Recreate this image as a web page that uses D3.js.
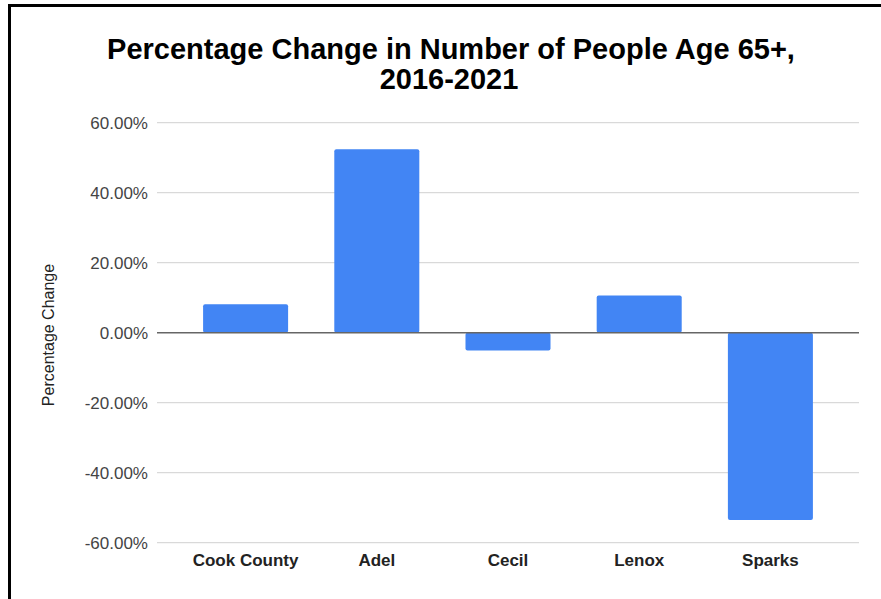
<!DOCTYPE html>
<html>
<head>
<meta charset="utf-8">
<script src="https://cdn.jsdelivr.net/npm/d3@7"></script>
<style>
  body { margin: 0; background: #fff; }
  text { font-family: Arial, "Liberation Sans", sans-serif; }
</style>
</head>
<body>
<svg id="mainsvg" width="881" height="599"></svg>
<script>
const places = ['Cook County', 'Adel', 'Cecil', 'Lenox', 'Sparks'];
const pctChange = [8.1, 52.4, -5.1, 10.6, -53.5];
const yTicks = [-60, -40, -20, 0, 20, 40, 60];

const svg = d3.select('#mainsvg');
const plot = {left: 157, right: 859, top: 122.7, bottom: 542.7};

// frame
svg.append('rect')
  .attr('x', 9.5).attr('y', 5.5)
  .attr('width', 1000).attr('height', 1000)
  .attr('fill', 'none').attr('stroke', '#000').attr('stroke-width', 3);

const xScale = d3.scaleBand()
  .domain(places)
  .range([180, 836])
  .paddingInner(0.352)
  .paddingOuter(0.176);

const yScale = d3.scaleLinear()
  .domain([-60, 60])
  .range([plot.bottom, plot.top]);

// gridlines
svg.append('g')
  .selectAll('line')
  .data(yTicks.filter(d => d !== 0))
  .join('line')
  .attr('x1', plot.left).attr('x2', plot.right)
  .attr('y1', d => yScale(d)).attr('y2', d => yScale(d))
  .attr('stroke', '#d9d9d9').attr('stroke-width', 1.2);

// y axis labels (plain hyphen for negatives)
const yAxis = svg.append('g')
  .attr('transform', `translate(${plot.left}, 0)`)
  .call(d3.axisLeft(yScale).tickValues(yTicks).tickSize(0).tickPadding(9)
    .tickFormat(d => d.toFixed(2) + '%'));
yAxis.select('.domain').remove();
yAxis.selectAll('text')
  .style('font-size', '17px')
  .style('font-family', 'Arial, "Liberation Sans", sans-serif')
  .attr('fill', '#444');

// bars
svg.append('g')
  .selectAll('rect')
  .data(places)
  .join('rect')
  .attr('x', d => xScale(d))
  .attr('width', xScale.bandwidth())
  .attr('y', (d, i) => yScale(Math.max(0, pctChange[i])))
  .attr('height', (d, i) => Math.abs(yScale(pctChange[i]) - yScale(0)))
  .attr('rx', 2)
  .attr('fill', '#4285f4');

// zero line
svg.append('line')
  .attr('x1', plot.left).attr('x2', plot.right)
  .attr('y1', yScale(0)).attr('y2', yScale(0))
  .attr('stroke', '#666').attr('stroke-width', 1.5);

// x axis labels
const xAxis = svg.append('g')
  .attr('transform', `translate(0, ${plot.bottom})`)
  .call(d3.axisBottom(xScale).tickSize(0).tickPadding(11));
xAxis.select('.domain').remove();
xAxis.selectAll('text')
  .style('font-size', '17px')
  .style('font-weight', 'bold')
  .style('font-family', 'Arial, "Liberation Sans", sans-serif')
  .attr('fill', '#222');

// title
const title = svg.append('text')
  .attr('x', 450)
  .attr('text-anchor', 'middle')
  .style('font-size', '29px')
  .style('font-weight', 'bold')
  .attr('fill', '#000');
title.append('tspan').attr('x', 451).attr('y', 58.5).text('Percentage Change in Number of People Age 65+,');
title.append('tspan').attr('x', 449).attr('y', 88.5).text('2016-2021');

// y axis title
svg.append('text')
  .attr('transform', 'rotate(-90)')
  .attr('x', -335)
  .attr('y', 54)
  .attr('text-anchor', 'middle')
  .style('font-size', '16px')
  .attr('fill', '#222')
  .text('Percentage Change');
</script>
</body>
</html>
